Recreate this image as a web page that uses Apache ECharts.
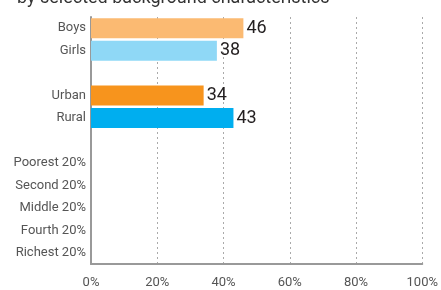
<!DOCTYPE html>
<html>
<head>
<meta charset="utf-8">
<title>Background characteristics</title>
<script src="https://cdn.jsdelivr.net/npm/echarts@6/dist/echarts.min.js"></script>
<style>
  html, body { margin: 0; padding: 0; background: #fff; }
  #chart { width: 441px; height: 290px; }
</style>
</head>
<body>
<div id="chart"></div>
<script>
  // categories top to bottom, blanks are spacer rows
  var categories = ['Boys', 'Girls', '', 'Urban', 'Rural', ' ', 'Poorest 20%', 'Second 20%', 'Middle 20%', 'Fourth 20%', 'Richest 20%'];
  var values = [46, 38, null, 34, 43, null, null, null, null, null, null];
  var barColors = ['#FBBA72', '#8FD8F6', null, '#F7941D', '#00AEEF'];
  var xTicks = [0, 20, 40, 60, 80, 100];

  var font = 'Roboto, sans-serif';

  var chart = echarts.init(document.getElementById('chart'));

  var data = values.map(function (v, i) {
    if (v == null) return null;
    return { value: v, itemStyle: { color: barColors[i] } };
  });

  chart.setOption({
    animation: false,
    title: {
      text: 'by selected background characteristics',
      left: 12,
      top: -16,
      textStyle: { fontSize: 18, fontWeight: 'normal', color: '#333', fontFamily: font }
    },
    grid: { left: 91, right: 18, top: 17, bottom: 26 },
    xAxis: {
      type: 'value',
      min: xTicks[0],
      max: xTicks[xTicks.length - 1],
      interval: 20,
      axisLine: { show: true, lineStyle: { color: '#999', width: 2 } },
      axisTick: { show: false },
      axisLabel: {
        margin: 12,
        color: '#555',
        fontSize: 13,
        fontFamily: font,
        formatter: '{value}%'
      },
      splitLine: { show: true, lineStyle: { color: '#aaa', type: [2, 3], width: 1 } }
    },
    yAxis: {
      type: 'category',
      inverse: true,
      data: categories,
      axisLine: { show: true, lineStyle: { color: '#999', width: 2 } },
      axisTick: { show: false },
      axisLabel: { margin: 5, color: '#555', fontSize: 13, fontFamily: font }
    },
    series: [{
      type: 'bar',
      data: data,
      barWidth: 20,
      label: {
        show: true,
        position: 'right',
        distance: 3,
        color: '#231f20',
        fontSize: 18,
        fontFamily: font
      }
    }]
  });
</script>
</body>
</html>
